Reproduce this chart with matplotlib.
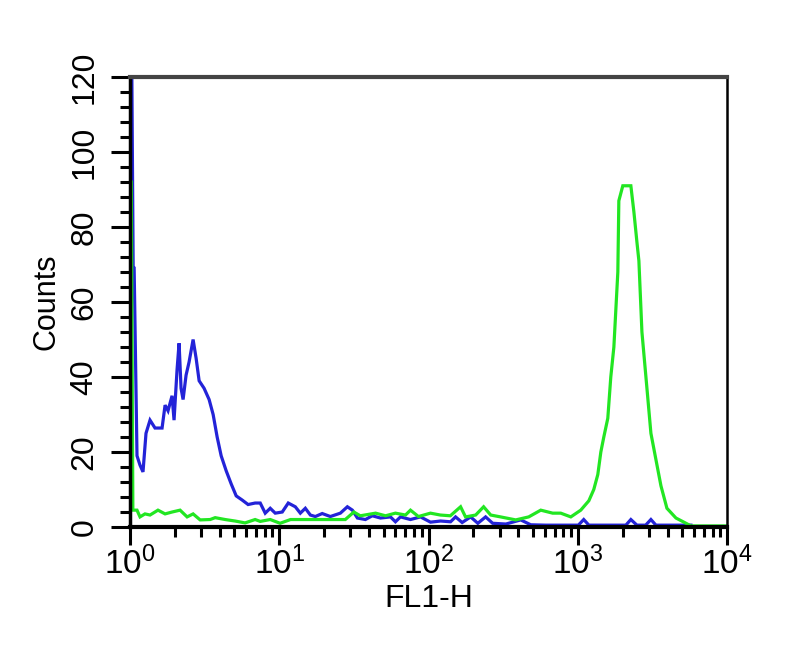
import matplotlib
matplotlib.use("Agg")
import matplotlib.pyplot as plt
from matplotlib.ticker import LogLocator, NullFormatter, MultipleLocator

plt.rcParams['font.family'] = ['Liberation Sans', 'DejaVu Sans']

# blue histogram (control)
blue_x = [1.025, 1.05, 1.066, 1.114, 1.167, 1.222, 1.28, 1.362, 1.471, 1.64,
          1.718, 1.798, 1.913, 1.973, 2.067, 2.132, 2.198, 2.268, 2.375, 2.488,
          2.647, 2.773, 2.905, 3.136, 3.389, 3.606, 3.836, 4.081, 4.409, 4.764,
          5.147, 5.641, 6.183, 6.893, 7.456, 8.054, 8.7, 9.401, 10.47, 11.49,
          12.81, 13.84, 14.95, 16.15, 17.44, 19.4, 21.99, 25.67, 28.6, 30.9,
          33.39, 37.76, 42.0, 47.64, 55.59, 60.03, 64.87, 75.7, 88.37, 103.1,
          120.4, 140.5, 151.8, 168.0, 191.4, 214.0, 241.3, 269.0, 330.0, 414.4,
          484.0, 610.0, 769.0, 1009.0, 1096.0, 1186.0, 2100.0, 2268.0, 2490.0, 2850.0,
          3090.0, 3338.0, 5730.0]
blue_y = [130, 69, 69, 19, 16.5, 14.7, 25, 28.5, 26.4, 26.4,
          32.5, 31, 35, 28.5, 42, 49, 37, 34, 40.5, 44,
          50, 45, 39, 37, 34, 30, 24, 19, 15, 11.5,
          8.3, 7.2, 6, 6.4, 6.4, 3.7, 5, 3.7, 4, 6.4,
          5.4, 3.7, 5, 3.2, 2.8, 3.6, 2.8, 3.7, 5.4, 4.5,
          2.4, 2, 3, 2.4, 2.7, 1.4, 2.7, 2, 2.7, 1.3,
          1.6, 1.4, 2.7, 1.2, 2.7, 1.0, 2.7, 1.0, 0.8, 1.9,
          0.6, 0.5, 0.5, 0.5, 2, 0.5, 0.5, 2, 0.5, 0.5,
          2, 0.5, 0.5]

# green histogram (stained)
green_x = [1.02, 1.045, 1.114, 1.167, 1.26, 1.362, 1.54, 1.718, 1.913, 2.165,
           2.413, 2.647, 2.95, 3.443, 3.72, 4.34, 5.06, 5.9, 6.89, 7.456,
           8.7, 10.13, 11.9, 13.84, 18.8, 27.7, 31.6, 34.9, 44.2, 51.5,
           60.0, 70.1, 75.7, 85.6, 103.0, 120.0, 140.0, 164.0, 177.0, 207.0,
           234.0, 261.0, 304.0, 384.0, 469.0, 565.0, 679.0, 769.0, 898.0, 1047.0,
           1186.0, 1280.0, 1362.0, 1427.0, 1494.0, 1589.0, 1664.0, 1745.0, 1855.0, 1884.0,
           2003.0, 2268.0, 2377.0, 2490.0, 2567.0, 2690.0, 2906.0, 3090.0, 3338.0, 3607.0,
           3956.0, 4547.0, 5140.0, 5730.0, 10000.0]
green_y = [92, 4.5, 4.5, 2.7, 3.5, 3.2, 4.5, 3.5, 4, 4.5,
           2.7, 3.5, 1.9, 2.0, 2.5, 2.0, 1.6, 1.1, 2.0, 1.5,
           2.0, 1.0, 2.0, 2.0, 2.0, 2.0, 4, 3, 3.7, 3,
           3.7, 3.2, 4.5, 2.8, 3.7, 3.2, 3, 5.4, 2.7, 3.2,
           5.4, 3.2, 2.7, 1.9, 2.7, 4.5, 3.7, 3.7, 2.7, 4.5,
           7, 10, 14, 20, 24, 29, 40, 48, 68, 87,
           91, 91, 84, 76, 71, 52, 37, 25, 18, 11,
           5, 2.4, 1.3, 0.3, 0.3]

x_ticks = [1, 10, 100, 1000, 10000]
x_labels = [r'$\mathregular{10^{0}}$', r'$\mathregular{10^{1}}$', r'$\mathregular{10^{2}}$',
            r'$\mathregular{10^{3}}$', r'$\mathregular{10^{4}}$']
y_ticks = [0, 20, 40, 60, 80, 100, 120]

fig = plt.figure(figsize=(8, 6.56), dpi=100)
ax = fig.add_axes([0.1625, 0.1966, 0.7463, 0.686])

ax.plot(blue_x, blue_y, color='#2323d8', lw=2.3, solid_joinstyle='miter')
ax.plot(green_x, green_y, color='#22e622', lw=2.3, solid_joinstyle='miter')

ax.set_xscale('log')
ax.set_xlim(1, 10000)
ax.set_ylim(0, 120)

ax.set_xticks(x_ticks)
ax.set_xticklabels(x_labels)
ax.xaxis.set_minor_locator(LogLocator(base=10, subs=range(2, 10)))
ax.xaxis.set_minor_formatter(NullFormatter())
ax.set_yticks(y_ticks)
ax.yaxis.set_minor_locator(MultipleLocator(4))

ax.tick_params(axis='x', which='major', direction='out', length=13, width=2.2, pad=1, labelsize=24)
ax.tick_params(axis='x', which='minor', direction='out', length=7, width=2.2)
ax.tick_params(axis='y', which='major', direction='out', length=14, width=2.2, pad=8,
               labelsize=23, labelrotation=90)
ax.tick_params(axis='y', which='minor', direction='out', length=7, width=2.2)
for lab in ax.get_yticklabels():
    lab.set_va('center')

ax.spines['left'].set_linewidth(2.5)
ax.spines['bottom'].set_linewidth(3)
ax.spines['top'].set_linewidth(3)
ax.spines['top'].set_color('#444444')
ax.spines['right'].set_linewidth(1.8)

ax.set_ylabel('Counts', fontsize=22, labelpad=6)
ax.set_xlabel('FL1-H', fontsize=23, labelpad=2)

fig.savefig('out.png', dpi=100)
